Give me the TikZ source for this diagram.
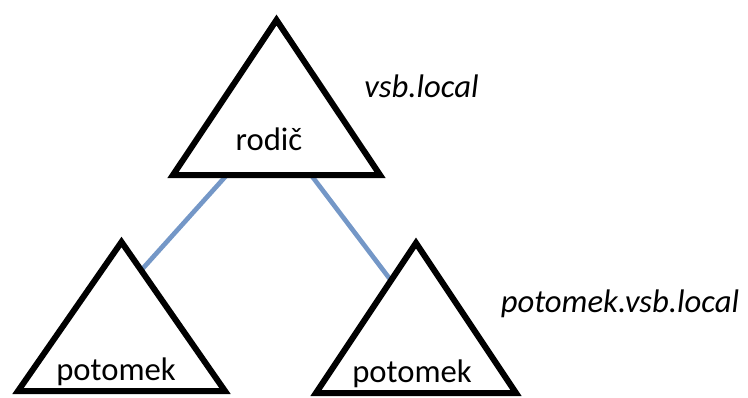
\documentclass[tikz,border=0pt]{standalone}
\usepackage{fontspec}
\setmainfont{Carlito}
\usetikzlibrary{calc}

\tikzset{every picture/.style={line width=0.75pt}}
\tikzset{
  domtri/.style={line width=4.5pt, line join=miter},
  trustline/.style={color={rgb, 255:red, 116; green, 151; blue, 199}, draw opacity=1, line width=3.5pt},
  dlabel/.style={anchor=base, inner sep=0.75pt, font=\fontsize{24.5}{29}\selectfont},
  dname/.style={dlabel, font=\fontsize{24.5}{29}\selectfont\itshape},
}

\begin{document}
\begin{tikzpicture}[x=0.75pt,y=0.75pt,yscale=-1,xscale=1]
\useasboundingbox (0,0) rectangle (748,397);

%Corners of the triangles
\coordinate (rodicA) at (276.5,20);
\coordinate (rodicL) at (173,175);
\coordinate (rodicR) at (380,175);
\coordinate (potLA) at (121.5,242);
\coordinate (potLL) at (18,391);
\coordinate (potLR) at (225,391);
\coordinate (potRA) at (416,243);
\coordinate (potRL) at (316,393);
\coordinate (potRR) at (516,393);

%Straight Lines [id:trust left]
\draw [trustline] ($(rodicL)!0.26!(rodicR)$) -- ($(potLA)!0.19!(potLR)$) ;
%Straight Lines [id:trust right]
\draw [trustline] ($(rodicL)!0.667!(rodicR)$) -- ($(potRA)!0.25!(potRL)$) ;

%Shape: Triangle [id:rodic]
\draw [domtri] (rodicA) -- (rodicR) -- (rodicL) -- cycle ;
%Shape: Triangle [id:potomek left]
\draw [domtri] (potLA) -- (potLR) -- (potLL) -- cycle ;
%Shape: Triangle [id:potomek right]
\draw [domtri] (potRA) -- (potRR) -- (potRL) -- cycle ;

% Text Node
\node [dlabel] (rodic) at (269,150) {rodič};
% Text Node
\node [dname] (vsb) at (421.5,97) {vsb.local};
% Text Node
\node [dlabel] (potomekL) at (116,380) {potomek};
% Text Node
\node [dlabel] (potomekR) at (412,382) {potomek};
% Text Node
\node [dname] (sub) at (620,312) {potomek.vsb.local};

\end{tikzpicture}
\end{document}
